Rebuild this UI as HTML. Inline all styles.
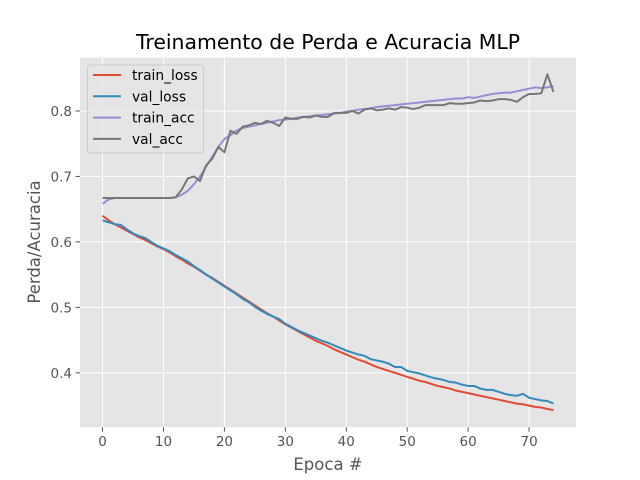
<!DOCTYPE html>
<html><head><meta charset="utf-8"><style>
body{margin:0;background:#fff;}
svg{display:block;font-family:"DejaVu Sans","Liberation Sans",sans-serif;}
</style></head><body>
<svg id="c" width="640" height="480"></svg>
<script>
const epochs=[];for(let i=0;i<75;i++)epochs.push(i);
const trainLoss=[.640,.633,.627,.622,.617,.612,.607,.603,.598,.593,.589,.584,.578,.573,.567,.562,.556,.550,.545,.539,.533,.527,.521,.515,.509,.503,.497,.491,.486,.480,.474,.469,.464,.459,.454,.449,.445,.441,.436,.432,.428,.424,.420,.417,.413,.409,.406,.403,.400,.397,.394,.391,.388,.386,.383,.380,.378,.376,.373,.371,.369,.367,.365,.363,.361,.359,.357,.355,.353,.352,.350,.348,.347,.345,.343];
const valLoss=[.633,.630,.627,.626,.619,.613,.609,.606,.600,.594,.590,.586,.580,.575,.570,.563,.557,.550,.544,.538,.532,.526,.520,.513,.508,.501,.495,.490,.486,.482,.475,.470,.465,.461,.457,.453,.449,.446,.442,.438,.434,.431,.428,.426,.421,.419,.417,.414,.409,.409,.403,.401,.399,.396,.393,.391,.389,.386,.385,.382,.380,.380,.376,.374,.374,.371,.368,.366,.365,.368,.362,.360,.358,.357,.353];
const trainAcc=[.658,.665,.667,.667,.667,.667,.667,.667,.667,.667,.667,.667,.668,.672,.678,.688,.700,.715,.730,.745,.757,.763,.770,.774,.776,.778,.780,.782,.784,.786,.787,.788,.790,.791,.792,.793,.794,.795,.796,.797,.799,.800,.802,.803,.804,.806,.807,.808,.809,.810,.811,.812,.813,.814,.815,.816,.817,.818,.819,.819,.821,.820,.822,.824,.826,.827,.828,.828,.830,.832,.834,.836,.835,.836,.838];
const valAcc=[.667,.667,.667,.667,.667,.667,.667,.667,.667,.667,.667,.667,.668,.680,.697,.700,.693,.717,.727,.745,.737,.770,.765,.776,.778,.782,.780,.785,.782,.777,.790,.788,.788,.791,.790,.793,.791,.791,.797,.797,.797,.800,.796,.802,.804,.801,.802,.804,.802,.806,.805,.803,.805,.809,.809,.809,.809,.812,.811,.811,.812,.813,.816,.815,.816,.818,.818,.817,.814,.821,.826,.826,.827,.856,.829];
const xTicks=[0,10,20,30,40,50,60,70];
const yTicks=[0.4,0.5,0.6,0.7,0.8];
const seriesNames=["train_loss","val_loss","train_acc","val_acc"];
const seriesColors=["#E24A33","#348ABD","#988ED5","#777777"];
const seriesData=[trainLoss,valLoss,trainAcc,valAcc];

const L=80,R=576,T=57.6,B=427.2;
const x0=-3.7,x1=77.7,y0=0.317,y1=0.8815;
const X=v=>L+(v-x0)/(x1-x0)*(R-L);
const Y=v=>B-(v-y0)/(y1-y0)*(B-T);
const svg=document.getElementById('c');
const NS="http://www.w3.org/2000/svg";
function mk(tag,attrs,parent){const e=document.createElementNS(NS,tag);for(const k in attrs)e.setAttribute(k,attrs[k]);(parent||svg).appendChild(e);return e;}

const bg=mk('rect',{x:L,y:T,width:R-L,height:B-T,fill:'#E5E5E5'});



xTicks.forEach(t=>{
  const g=mk('line',{x1:X(t),x2:X(t),y1:T,y2:B,stroke:'#fff','stroke-width':1});
  
  
  const tk=mk('line',{x1:X(t),x2:X(t),y1:B,y2:B+4.5,stroke:'#555'});
  
  
  const tx=mk('text',{x:X(t),y:B+19,'text-anchor':'middle','font-size':13.5,fill:'#555'});
  tx.textContent=t;
  
  
});
yTicks.forEach(t=>{
  const g=mk('line',{x1:L,x2:R,y1:Y(t),y2:Y(t),stroke:'#fff','stroke-width':1});
  
  
  const tk=mk('line',{x1:L-4.5,x2:L,y1:Y(t),y2:Y(t),stroke:'#555'});
  
  
  const tx=mk('text',{x:L-8,y:Y(t)+5,'text-anchor':'end','font-size':13.5,fill:'#555'});
  tx.textContent=t.toFixed(1);
  
  
});

seriesData.forEach((d,i)=>{
  const pts=d.map((v,j)=>X(epochs[j]).toFixed(2)+','+Y(v).toFixed(2)).join(' ');
  const p=mk('polyline',{points:pts,fill:'none',stroke:seriesColors[i],'stroke-width':2,'stroke-linejoin':'round'});
  
  
});

const t=mk('text',{x:(L+R)/2,y:49,'text-anchor':'middle','font-size':20.4,fill:'#000'});
t.textContent='Treinamento de Perda e Acuracia MLP';


const xl=mk('text',{x:(L+R)/2,y:470,'text-anchor':'middle','font-size':16.5,fill:'#555'});
xl.textContent='Epoca #';


const yl=mk('text',{x:0,y:0,'text-anchor':'middle','font-size':16.5,fill:'#555',transform:'translate(40,242) rotate(-90)'});
yl.textContent='Perda/Acuracia';



const lg=mk('g',{});


mk('rect',{x:87.5,y:65,width:116,height:88,rx:3,fill:'#E5E5E5',stroke:'#ccc','fill-opacity':0.8},lg);
seriesNames.forEach((n,i)=>{
  const yy=75+i*21.3;
  const sw=mk('line',{x1:93,x2:121,y1:yy,y2:yy,stroke:seriesColors[i],'stroke-width':2},lg);
  
  
  const tx=mk('text',{x:132,y:yy+5,'font-size':13.8,fill:'#000'},lg);
  tx.textContent=n;
  
  
});
</script>
</body></html>
